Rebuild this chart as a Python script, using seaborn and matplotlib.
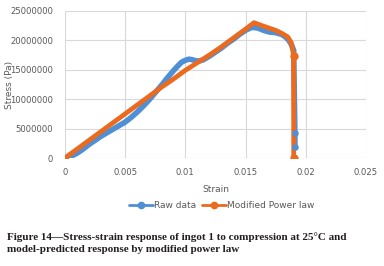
import matplotlib
matplotlib.use("Agg")
import matplotlib.pyplot as plt
import seaborn as sns
import pandas as pd
from matplotlib.lines import Line2D

raw_strain = [0, 0.0005, 0.001, 0.0015, 0.002, 0.0025, 0.003, 0.0035, 0.004, 0.0045, 0.005,
              0.0055, 0.006, 0.0065, 0.007, 0.0075, 0.008, 0.0085, 0.009, 0.0094, 0.0097,
              0.0100, 0.0103, 0.0106, 0.0109, 0.0112, 0.0115, 0.012, 0.0125, 0.013, 0.0135,
              0.014, 0.0145, 0.015, 0.0155, 0.016, 0.0165, 0.017, 0.0175, 0.018, 0.0183,
              0.0186, 0.0188, 0.019, 0.0191, 0.0191]
raw_stress = [0, 0.3e6, 0.8e6, 1.5e6, 2.3e6, 3.0e6, 3.7e6, 4.3e6, 4.9e6, 5.5e6, 6.1e6,
              6.9e6, 7.8e6, 8.8e6, 9.9e6, 11.1e6, 12.3e6, 13.6e6, 14.8e6, 15.7e6, 16.3e6,
              16.6e6, 16.8e6, 16.7e6, 16.5e6, 16.5e6, 16.7e6, 17.3e6, 18.0e6, 18.7e6, 19.5e6,
              20.2e6, 21.0e6, 21.7e6, 22.2e6, 22.1e6, 21.7e6, 21.4e6, 21.3e6, 21.0e6, 20.6e6,
              20.0e6, 19.3e6, 18.3e6, 4.2e6, 1.8e6]

model_strain = [0, 0.001, 0.002, 0.003, 0.004, 0.005, 0.006, 0.007, 0.008, 0.009, 0.010,
                0.011, 0.012, 0.013, 0.014, 0.015, 0.0157, 0.0165, 0.0175, 0.018, 0.0185,
                0.0188, 0.0190, 0.0190]
model_stress = [0, 1.5e6, 3.0e6, 4.5e6, 6.0e6, 7.5e6, 9.0e6, 10.5e6, 12.0e6, 13.4e6, 14.9e6,
                16.2e6, 17.5e6, 18.9e6, 20.4e6, 21.9e6, 23.0e6, 22.4e6, 21.7e6, 21.2e6, 20.6e6,
                19.6e6, 17.4e6, 0]

series_names = ["Raw data", "Modified Power law"]
x_ticks = [0, 0.005, 0.01, 0.015, 0.02, 0.025]
x_tick_labels = ["0", "0.005", "0.01", "0.015", "0.02", "0.025"]
y_ticks = [0, 5000000, 10000000, 15000000, 20000000, 25000000]
y_tick_labels = ["0", "5000000", "10000000", "15000000", "20000000", "25000000"]
caption = ("Figure 14\u2014Stress-strain response of ingot 1 to compression at 25\u00b0C and\n"
           "model-predicted response by modified power law")

sns.set_style("white")
plt.rcParams['font.family'] = ['DejaVu Sans']

blue = "#4F8FD6"
orange = "#EB6A1E"
grey = "#595959"

fig = plt.figure(figsize=(3.84, 2.66), dpi=100)
ax = fig.add_axes([0.169, 0.406, 0.784, 0.553])

df_raw = pd.DataFrame({"x": raw_strain, "y": raw_stress})
df_mod = pd.DataFrame({"x": model_strain, "y": model_stress})

sns.lineplot(data=df_raw, x="x", y="y", ax=ax, color=blue, lw=4.0, sort=False,
             estimator=None, legend=False)
ax.scatter(raw_strain[-2:], raw_stress[-2:], s=22, color=blue, lw=0, zorder=3)
sns.lineplot(data=df_mod, x="x", y="y", ax=ax, color=orange, lw=3.4, sort=False,
             estimator=None, legend=False)
ax.scatter(model_strain[-2:], model_stress[-2:], s=36, color=orange, lw=0, zorder=4)
ax.scatter(model_strain[:1], model_stress[:1], s=30, color=orange, lw=0, zorder=4)

ax.set_xlim(0, 0.025)
ax.set_ylim(0, 25000000)
ax.set_xticks(x_ticks)
ax.set_xticklabels(x_tick_labels)
ax.set_yticks(y_ticks)
ax.set_yticklabels(y_tick_labels)
ax.tick_params(axis="both", labelsize=6.1, colors=grey, length=0)
ax.tick_params(axis="y", pad=8.5)
ax.tick_params(axis="x", pad=7)
ax.grid(True, color="#D9D9D9", lw=0.8)
ax.set_axisbelow(True)
for s in ax.spines.values():
    s.set_visible(False)
ax.axhline(0, color="#D9D9D9", lw=0.8, zorder=0)

ax.set_xlabel("Strain", fontsize=6.5, color=grey, labelpad=6)
ax.set_ylabel("Stress (Pa)", fontsize=6.5, color=grey)
ax.yaxis.set_label_coords(-0.168, 0.5)

handles = [Line2D([], [], color=blue, lw=2, marker="o", markersize=4.5),
           Line2D([], [], color=orange, lw=2, marker="o", markersize=4.5)]
fig.legend(handles, series_names, loc="center", bbox_to_anchor=(0.578, 0.228), ncol=2,
           frameon=False, fontsize=6.5, labelcolor=grey, handlelength=2.6, columnspacing=0.6,
           handletextpad=0.2)

fig.text(0.018, 0.086, caption, fontsize=8.0, fontweight="bold",
         family=["Liberation Serif"], color="#231F20", va="center", linespacing=1.35)

fig.savefig("out.png", dpi=100)
